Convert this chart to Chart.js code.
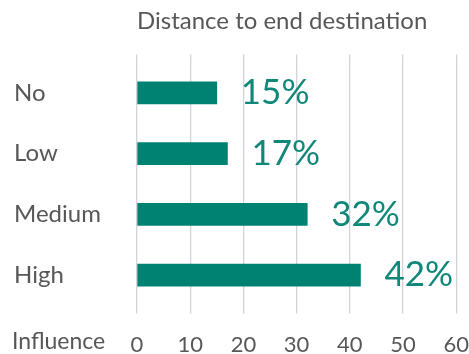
<!DOCTYPE html>
<html>
<head>
<meta charset="utf-8">
<script src="https://cdn.jsdelivr.net/npm/chart.js@4/dist/chart.umd.min.js"></script>
<style>
  html, body { margin: 0; padding: 0; background: #fff; overflow: hidden; }
  #wrap { width: 469px; height: 354px; overflow: hidden; }
</style>
</head>
<body>
<div id="wrap"><canvas id="c" width="487" height="354"></canvas></div>
<script>
// Share of respondents by level of influence of distance to end destination
const categories = ['No', 'Low', 'Medium', 'High'];
const shares = [15, 17, 32, 42];
const axisTicks = [0, 10, 20, 30, 40, 50, 60];
const chartTitle = 'Distance to end destination';
const axisCaption = 'Influence';

const TEXT = '#575757';
const TEAL = '#008273';
const LABEL_TEAL = '#11877a';
const GRID = '#d3d3da';
const FONT = 'Lato, "Open Sans", sans-serif';

// Percentage labels to the right of each bar
const valueLabels = {
  id: 'valueLabels',
  afterDatasetsDraw(chart) {
    const ctx = chart.ctx;
    const meta = chart.getDatasetMeta(0);
    ctx.save();
    ctx.font = '35px ' + FONT;
    ctx.fillStyle = LABEL_TEAL;
    ctx.textAlign = 'left';
    ctx.textBaseline = 'middle';
    meta.data.forEach((bar, i) => {
      ctx.fillText(shares[i] + '%', bar.x + 24, bar.y);
    });
    ctx.restore();
  }
};

// Caption sitting on the same line as the value axis labels
const axisCaptionPlugin = {
  id: 'axisCaption',
  afterDraw(chart) {
    const ctx = chart.ctx;
    const x = chart.scales.x;
    ctx.save();
    ctx.font = '23px ' + FONT;
    ctx.fillStyle = TEXT;
    ctx.textAlign = 'left';
    ctx.textBaseline = 'top';
    ctx.fillText(axisCaption, 12, x.top + 8 + 17);
    ctx.restore();
  }
};

new Chart(document.getElementById('c'), {
  type: 'bar',
  data: {
    labels: categories,
    datasets: [{
      data: shares,
      backgroundColor: TEAL,
      borderWidth: 0,
      barThickness: 22
    }]
  },
  options: {
    indexAxis: 'y',
    responsive: false,
    animation: false,
    devicePixelRatio: 1,
    layout: { padding: { left: 14, right: 0, top: 0, bottom: 0 } },
    plugins: {
      legend: { display: false },
      tooltip: { enabled: false }
    },
    scales: {
      x: {
        position: 'bottom',
        min: 0,
        max: 60,
        afterBuildTicks(scale) { scale.ticks = axisTicks.map(v => ({ value: v })); },
        afterFit(scale) { scale.height = 48.5; },
        border: { display: false },
        grid: { color: GRID, lineWidth: 1.3, tickLength: 8, drawTicks: true },
        ticks: { color: TEXT, font: { family: FONT, size: 22 }, padding: 18 }
      },
      x2: {
        position: 'top',
        min: 0,
        max: 60,
        afterBuildTicks(scale) { scale.ticks = axisTicks.map(v => ({ value: v })); },
        afterFit(scale) { scale.height = 62.5; },
        border: { display: false },
        grid: { color: GRID, lineWidth: 1.3, tickLength: 8, drawOnChartArea: false, drawTicks: true },
        ticks: { display: false },
        title: {
          display: true,
          text: chartTitle,
          align: 'start',
          color: TEXT,
          font: { family: FONT, size: 24 },
          padding: { top: 7, bottom: 0 }
        }
      },
      y: {
        position: 'left',
        afterFit(scale) { scale.width = 123; },
        border: { display: false },
        grid: { display: false, drawTicks: false },
        ticks: {
          color: TEXT,
          crossAlign: 'far',
          font: { family: FONT, size: 24 }
        }
      }
    }
  },
  plugins: [valueLabels, axisCaptionPlugin]
});
</script>
</body>
</html>
